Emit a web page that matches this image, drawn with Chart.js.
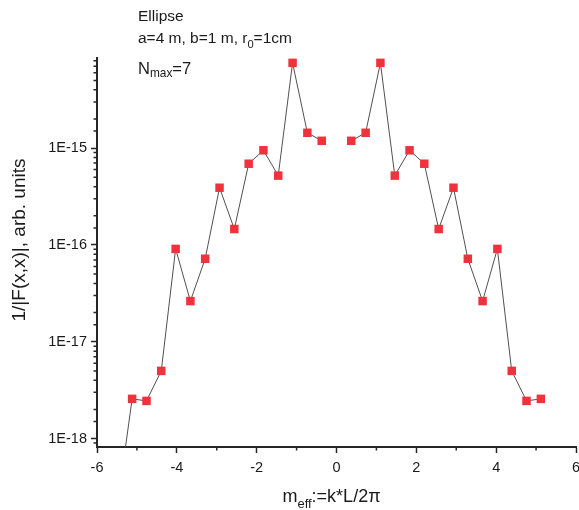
<!DOCTYPE html>
<html>
<head>
<meta charset="utf-8">
<script src="https://cdn.jsdelivr.net/npm/chart.js@4.4.1/dist/chart.umd.min.js"></script>
<style>
  html, body { margin: 0; padding: 0; background: #fff; overflow: hidden; }
</style>
</head>
<body>
<!-- a few px wider than the window: Chart.js keeps 6px free right of the last x label -->
<canvas id="chart" width="582" height="510"></canvas>
<script>
// m_eff values and 1/|F(x,x)| (left and right branch)
const leftX = [-5.49, -5.12, -4.76, -4.39, -4.03, -3.66, -3.29, -2.93, -2.56, -2.20, -1.83, -1.46, -1.10, -0.73, -0.37];
const leftY = [2.0e-19, 2.57e-18, 2.45e-18, 5.0e-18, 9.1e-17, 2.63e-17, 7.2e-17, 3.9e-16, 1.46e-16, 6.9e-16, 9.5e-16, 5.2e-16, 7.6e-15, 1.44e-15, 1.19e-15];
const rightX = [0.37, 0.73, 1.10, 1.46, 1.83, 2.20, 2.56, 2.93, 3.29, 3.66, 4.03, 4.39, 4.76, 5.12];
const rightY = [1.19e-15, 1.44e-15, 7.6e-15, 5.2e-16, 9.5e-16, 6.9e-16, 1.46e-16, 3.9e-16, 7.2e-17, 2.63e-17, 9.1e-17, 5.0e-18, 2.45e-18, 2.57e-18];

const xTickValues = [-6, -4, -2, 0, 2, 4, 6];
const xTickLabels = ['-6', '-4', '-2', '0', '2', '4', '6'];
const yDecades = [-18, -17, -16, -15];
const yTickLabels = ['1E-18', '1E-17', '1E-16', '1E-15'];

const FONT = '"Liberation Sans", Arial, sans-serif';
const axisColor = '#262626';
const textColor = '#1a1a1a';
const markColor = '#f0323d';

function decadeOf(v) {
  const e = Math.log10(v);
  const r = Math.round(e);
  return Math.abs(e - r) < 1e-6 ? r : null;
}
const isMajorY = v => decadeOf(v) !== null && yDecades.includes(decadeOf(v));
const isMajorX = v => xTickValues.includes(Math.round(v)) && Math.abs(v - Math.round(v)) < 1e-9;

const toPts = (xs, ys) => xs.map((x, i) => ({x: x, y: ys[i]}));

// short minor tick marks (Chart.js tickLength is the same for all ticks)
const minorTicks = {
  id: 'minorTicks',
  afterDraw(chart) {
    const {ctx} = chart;
    const xs = chart.scales.x, ys = chart.scales.y;
    ctx.save();
    ctx.strokeStyle = axisColor;
    ctx.lineWidth = 1.5;
    ctx.beginPath();
    xs.ticks.forEach(t => {
      if (isMajorX(t.value)) return;
      const px = xs.getPixelForValue(t.value);
      ctx.moveTo(px, xs.top);
      ctx.lineTo(px, xs.top + 3.5);
    });
    ys.ticks.forEach(t => {
      if (isMajorY(t.value)) return;
      if (t.value <= ys.min * 1.001 || t.value >= ys.max * 0.999) return;
      const py = ys.getPixelForValue(t.value);
      ctx.moveTo(ys.right, py);
      ctx.lineTo(ys.right - 3.5, py);
    });
    ctx.stroke();
    ctx.restore();
  }
};

// text with subscripts: parts = [[text, subOffset or 0]]
function richWidth(ctx, parts, size) {
  let w = 0;
  parts.forEach(([t, sub]) => {
    ctx.font = (sub ? size * 0.72 : size) + 'px ' + FONT;
    w += ctx.measureText(t).width;
  });
  return w;
}
function drawRich(ctx, parts, x, y, size) {
  let cx = x;
  parts.forEach(([t, sub]) => {
    ctx.font = (sub ? size * 0.72 : size) + 'px ' + FONT;
    ctx.fillText(t, cx, y + (sub || 0));
    cx += ctx.measureText(t).width;
  });
}

const labels = {
  id: 'labels',
  afterDraw(chart) {
    const {ctx} = chart;
    ctx.save();
    ctx.fillStyle = textColor;
    ctx.textAlign = 'left';
    ctx.textBaseline = 'alphabetic';
    drawRich(ctx, [['Ellipse', 0]], 138, 21, 15.5);
    drawRich(ctx, [['a=4 m, b=1 m, r', 0], ['0', 5.5], ['=1cm', 0]], 138, 42.5, 15.5);
    drawRich(ctx, [['N', 0], ['max', 3], ['=7', 0]], 138, 74, 16.5);

    const xt = [['m', 0], ['eff', 6], [':=k*L/2\u03c0', 0]];
    const w = richWidth(ctx, xt, 18);
    drawRich(ctx, xt, 331.5 - w / 2, 501.5, 18);

    ctx.translate(20, 240);
    ctx.rotate(-Math.PI / 2);
    ctx.textAlign = 'center';
    ctx.textBaseline = 'middle';
    ctx.font = '19px ' + FONT;
    ctx.fillText('1/|F(x,x)|, arb. units', 0, 0);
    ctx.restore();
  }
};

const lineStyle = {
  borderColor: '#505050',
  borderWidth: 1,
  pointStyle: 'rect',
  pointRadius: 6,
  pointBorderWidth: 0,
  pointBackgroundColor: markColor,
  pointBorderColor: markColor,
  tension: 0
};

new Chart(document.getElementById('chart'), {
  type: 'line',
  data: {
    datasets: [
      Object.assign({label: 'left', data: toPts(leftX, leftY)}, lineStyle),
      Object.assign({label: 'right', data: toPts(rightX, rightY)}, lineStyle)
    ]
  },
  options: {
    responsive: false,
    animation: false,
    devicePixelRatio: 1,
    layout: {padding: {top: 58, right: 3, bottom: 0, left: 0}},
    plugins: {
      legend: {display: false},
      tooltip: {enabled: false},
      title: {display: false}
    },
    scales: {
      x: {
        type: 'linear',
        min: -6,
        max: 6,
        afterFit(s) { s.height = 63; s.paddingLeft = 0; s.paddingRight = 0; },
        border: {display: true, color: axisColor, width: 2},
        grid: {
          drawOnChartArea: false,
          drawTicks: true,
          tickLength: 6,
          tickWidth: 1.5,
          tickColor: c => (c.tick && isMajorX(c.tick.value)) ? axisColor : 'rgba(0,0,0,0)'
        },
        ticks: {
          stepSize: 1,
          autoSkip: false,
          maxRotation: 0,
          padding: 6,
          color: textColor,
          font: {family: FONT, size: 14.5},
          callback: v => {
            const i = xTickValues.indexOf(Math.round(v));
            return (i >= 0 && Math.abs(v - Math.round(v)) < 1e-9) ? xTickLabels[i] : '';
          }
        }
      },
      y: {
        type: 'logarithmic',
        min: 8.18e-19,
        max: 8.53e-15,
        afterFit(s) { s.width = 97; s.paddingTop = 0; s.paddingBottom = 0; },
        border: {display: true, color: axisColor, width: 2},
        grid: {
          drawOnChartArea: false,
          drawTicks: true,
          tickLength: 6,
          tickWidth: 1.5,
          tickColor: c => (c.tick && isMajorY(c.tick.value)) ? axisColor : 'rgba(0,0,0,0)'
        },
        ticks: {
          autoSkip: false,
          padding: 4,
          color: textColor,
          font: {family: FONT, size: 14.5},
          callback: v => {
            const d = decadeOf(v);
            const i = d === null ? -1 : yDecades.indexOf(d);
            return i >= 0 ? yTickLabels[i] : '';
          }
        }
      }
    }
  },
  plugins: [minorTicks, labels]
});
</script>
</body>
</html>
